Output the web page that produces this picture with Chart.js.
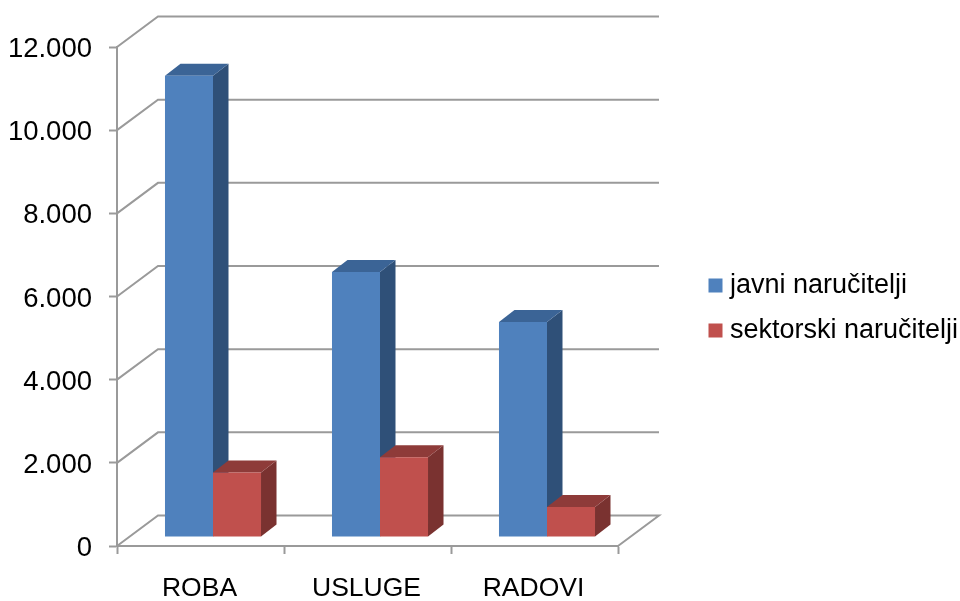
<!DOCTYPE html>
<html>
<head>
<meta charset="utf-8">
<style>html,body{margin:0;padding:0;background:#fff}canvas{display:block}</style>
<script src="https://cdn.jsdelivr.net/npm/chart.js@4"></script>
</head>
<body>
<canvas id="c" width="960" height="601"></canvas>
<script>
const categories = ['ROBA', 'USLUGE', 'RADOVI'];
const javniNarucitelji = [11090, 6375, 5170];
const sektorskiNarucitelji = [1550, 1920, 720];
const seriesNames = ['javni naručitelji', 'sektorski naručitelji'];
const seriesColors = ['#4F81BD', '#C0504D'];
const topColors = ['#3B6496', '#8E3B39'];
const sideColors = ['#2F5078', '#7A3230'];
const gridColor = '#9A9A9A';

function poly(ctx, pts, fill) {
  ctx.beginPath();
  pts.forEach((p, i) => i ? ctx.lineTo(p[0], p[1]) : ctx.moveTo(p[0], p[1]));
  ctx.closePath();
  ctx.fillStyle = fill;
  ctx.fill();
}

const wall3d = {
  id: 'wall3d',
  beforeLayout(chart) {
    const L = chart.legend;
    if (L && !L._patched) {
      const fit = L.fit;
      L.fit = function () { fit.call(this); this.width = 342; };
      L._patched = true;
    }
  },
  afterLayout(chart) {
    const L = chart.legend, w = L.width, h = L.height;
    L.left = 696.5; L.right = L.left + w;
    L.top = 254; L.bottom = L.top + h;
  },
  beforeDatasetsDraw(chart) {
    const { ctx, scales: { x, y } } = chart;
    const dx = 41, dy = 30.5;
    ctx.save();
    ctx.strokeStyle = gridColor;
    ctx.lineWidth = 2;
    y.ticks.forEach(t => {
      const py = y.getPixelForValue(t.value);
      ctx.beginPath();
      ctx.moveTo(x.left, py);
      ctx.lineTo(x.left + dx, py - dy);
      ctx.lineTo(x.right + dx, py - dy);
      if (t.value === 0) ctx.lineTo(x.right, py);
      ctx.stroke();
    });
    ctx.restore();
    ctx.save();
    ctx.translate(12.5, -9);
    const bx = 15.5, by = 12;
    [0, 1].forEach(di => {
      chart.getDatasetMeta(di).data.forEach(el => {
        const p = el.getProps(['x', 'y', 'base', 'width'], true);
        const l = p.x - p.width / 2, r = p.x + p.width / 2;
        poly(ctx, [[r, p.y], [r + bx, p.y - by], [r + bx, p.base - by], [r, p.base]], sideColors[di]);
        poly(ctx, [[l, p.y], [l + bx, p.y - by], [r + bx, p.y - by], [r, p.y]], topColors[di]);
      });
    });
  },
  afterDatasetsDraw(chart) {
    chart.ctx.restore();
  }
};

new Chart(document.getElementById('c'), {
  type: 'bar',
  data: {
    labels: categories,
    datasets: [
      { label: seriesNames[0], data: javniNarucitelji, backgroundColor: seriesColors[0], borderWidth: 0, clip: false, categoryPercentage: 0.575, barPercentage: 1 },
      { label: seriesNames[1], data: sektorskiNarucitelji, backgroundColor: seriesColors[1], borderWidth: 0, clip: false, categoryPercentage: 0.575, barPercentage: 1 }
    ]
  },
  options: {
    responsive: false,
    animation: false,
    layout: { padding: { top: 47, left: 0, right: 0, bottom: 0 } },
    plugins: {
      tooltip: { enabled: false },
      legend: {
        position: 'right',
        align: 'start',
        labels: {
          usePointStyle: true,
          pointStyle: 'rect',
          boxWidth: 2,
          boxHeight: 14,
          padding: 18,
          color: '#000',
          font: { family: 'Liberation Sans', size: 27 }
        }
      }
    },
    scales: {
      x: {
        afterFit(s) { s.height = 55; },
        border: { color: gridColor, width: 2 },
        grid: { drawOnChartArea: false, drawTicks: true, tickLength: 8, tickWidth: 2, tickColor: gridColor, offset: true },
        ticks: { color: '#000', padding: 19, labelOffset: -1, maxRotation: 0, autoSkip: false, font: { family: 'Liberation Sans', size: 26.5 } }
      },
      y: {
        min: 0,
        max: 12000,
        afterFit(s) { s.width = 117; },
        border: { color: gridColor, width: 2 },
        grid: { drawOnChartArea: false, drawTicks: true, tickLength: 8, tickWidth: 2, tickColor: gridColor },
        ticks: {
          stepSize: 2000,
          color: '#000',
          padding: 17,
          labelOffset: 2.5,
          font: { family: 'Liberation Sans', size: 27.5 },
          callback: v => v === 0 ? '0' : String(v).replace(/(\d)(\d{3})$/, '$1.$2')
        }
      }
    }
  },
  plugins: [wall3d]
});
</script>
</body>
</html>
